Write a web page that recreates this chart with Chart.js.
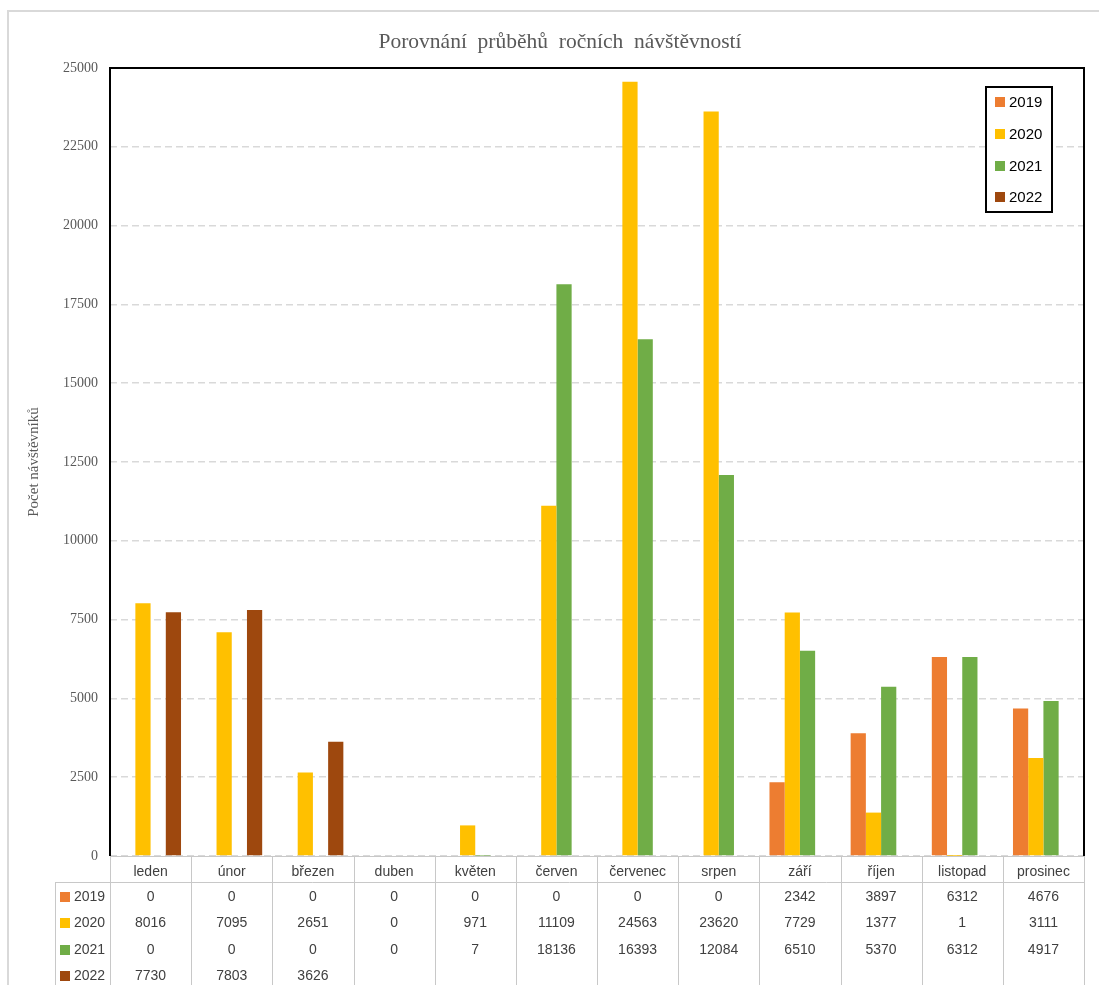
<!DOCTYPE html>
<html>
<head>
<meta charset="utf-8">
<script src="https://cdn.jsdelivr.net/npm/chart.js@4.4.1/dist/chart.umd.min.js"></script>
<style>
  html, body { margin: 0; padding: 0; background: #ffffff; }
  #wrap { width: 1099px; height: 985px; }
</style>
</head>
<body>
<div id="wrap"><canvas id="c" width="1099" height="985"></canvas></div>
<script>
// Měsíce a roční řady návštěvnosti
const months = ['leden', 'únor', 'březen', 'duben', 'květen', 'červen', 'červenec', 'srpen', 'září', 'říjen', 'listopad', 'prosinec'];
const years = ['2019', '2020', '2021', '2022'];
const visits2019 = [0, 0, 0, 0, 0, 0, 0, 0, 2342, 3897, 6312, 4676];
const visits2020 = [8016, 7095, 2651, 0, 971, 11109, 24563, 23620, 7729, 1377, 1, 3111];
const visits2021 = [0, 0, 0, 0, 7, 18136, 16393, 12084, 6510, 5370, 6312, 4917];
const visits2022 = [7730, 7803, 3626, null, null, null, null, null, null, null, null, null];
const yearColors = ['#ED7D31', '#FFC000', '#70AD47', '#9E480E'];
const chartTitle = 'Porovnání  průběhů  ročních  návštěvností';
const yTitle = 'Počet návštěvníků';
const yMax = 25000;
const yStep = 2500;

const series = [visits2019, visits2020, visits2021, visits2022];

const sans = "'Liberation Sans', Arial, sans-serif";
const serif = "'Liberation Serif', 'Times New Roman', serif";

// Rámeček grafu, nadpis, ohraničení plochy, legenda a tabulka dat pod osou
const decorations = {
  id: 'decorations',
  beforeDraw(chart) {
    const ctx = chart.ctx;
    ctx.save();
    ctx.fillStyle = '#ffffff';
    ctx.fillRect(0, 0, chart.width, chart.height);
    ctx.strokeStyle = '#d9d9d9';
    ctx.lineWidth = 2;
    ctx.beginPath();
    ctx.moveTo(8, chart.height);
    ctx.lineTo(8, 11);
    ctx.lineTo(chart.width, 11);
    ctx.stroke();

    ctx.fillStyle = '#595959';
    ctx.font = '21.5px ' + serif;
    ctx.textAlign = 'center';
    ctx.textBaseline = 'middle';
    ctx.fillText(chartTitle, 560, 42);
    ctx.restore();
  },
  afterDraw(chart) {
    const ctx = chart.ctx;
    const a = chart.chartArea;
    const xs = chart.scales.x;
    const n = months.length;
    const w = (a.right - a.left) / n;
    ctx.save();

    // tabulka dat
    ctx.strokeStyle = '#c8c8c8';
    ctx.lineWidth = 1;
    ctx.beginPath();
    ctx.moveTo(a.left, a.bottom + 0.5);
    ctx.lineTo(a.right, a.bottom + 0.5);
    const rowTop = a.bottom + 26;
    ctx.moveTo(55, rowTop + 0.5);
    ctx.lineTo(a.right, rowTop + 0.5);
    ctx.moveTo(55.5, rowTop);
    ctx.lineTo(55.5, chart.height);
    for (let i = 0; i <= n; i++) {
      const x = Math.round(a.left + i * w) + 0.5;
      ctx.moveTo(x, a.bottom);
      ctx.lineTo(x, chart.height);
    }
    ctx.stroke();

    ctx.font = '14px ' + sans;
    ctx.textBaseline = 'middle';
    const rowY = [rowTop + 15, rowTop + 41, rowTop + 68, rowTop + 94];
    years.forEach((yr, s) => {
      const y = rowY[s];
      ctx.fillStyle = yearColors[s];
      ctx.fillRect(60, y - 5, 10, 10);
      ctx.fillStyle = '#404040';
      ctx.textAlign = 'left';
      ctx.fillText(yr, 74, y);
      ctx.textAlign = 'center';
      series[s].forEach((v, i) => {
        if (v === null) return;
        ctx.fillText(String(v), xs.getPixelForValue(i), y);
      });
    });

    // ohraničení plochy grafu
    ctx.strokeStyle = '#000000';
    ctx.lineWidth = 2;
    ctx.beginPath();
    ctx.moveTo(a.left, a.bottom);
    ctx.lineTo(a.left, a.top);
    ctx.lineTo(a.right, a.top);
    ctx.lineTo(a.right, a.bottom);
    ctx.stroke();

    // legenda
    const lx = 986, ly = 87, lw = 66, lh = 125;
    ctx.fillStyle = '#ffffff';
    ctx.fillRect(lx, ly, lw, lh);
    ctx.strokeStyle = '#000000';
    ctx.lineWidth = 2;
    ctx.strokeRect(lx, ly, lw, lh);
    const legY = [102, 134, 166, 197];
    ctx.font = '15px ' + sans;
    ctx.textAlign = 'left';
    years.forEach((yr, s) => {
      ctx.fillStyle = yearColors[s];
      ctx.fillRect(995, legY[s] - 5, 10, 10);
      ctx.fillStyle = '#000000';
      ctx.fillText(yr, 1009, legY[s] + 0.5);
    });
    ctx.restore();
  }
};

new Chart(document.getElementById('c'), {
  type: 'bar',
  data: {
    labels: months,
    datasets: years.map((yr, s) => ({
      label: yr,
      data: series[s],
      backgroundColor: yearColors[s],
      borderWidth: 0,
      categoryPercentage: 0.75,
      barPercentage: 1.0
    }))
  },
  options: {
    responsive: false,
    animation: false,
    devicePixelRatio: 1,
    layout: { padding: { left: 10, right: 15, top: 68, bottom: 103 } },
    plugins: {
      legend: { display: false },
      tooltip: { enabled: false },
      title: { display: false }
    },
    scales: {
      x: {
        grid: { display: false },
        border: { display: false },
        ticks: {
          color: '#404040',
          font: { family: sans, size: 14 },
          padding: 0,
          maxRotation: 0,
          autoSkip: false
        },
        afterFit(scale) { scale.height = 26; }
      },
      y: {
        min: 0,
        max: yMax,
        grid: { color: '#d9d9d9', lineWidth: 1.5, drawTicks: false },
        border: { display: false, dash: [7, 4] },
        ticks: {
          stepSize: yStep,
          color: '#595959',
          font: { family: serif, size: 14 },
          padding: 12,
          callback: (v) => String(v)
        },
        title: {
          display: true,
          text: yTitle,
          color: '#595959',
          font: { family: serif, size: 15, weight: 'normal' },
          padding: { top: 15, bottom: 0 }
        },
        afterFit(scale) { scale.width = 100; }
      }
    }
  },
  plugins: [decorations]
});
</script>
</body>
</html>
